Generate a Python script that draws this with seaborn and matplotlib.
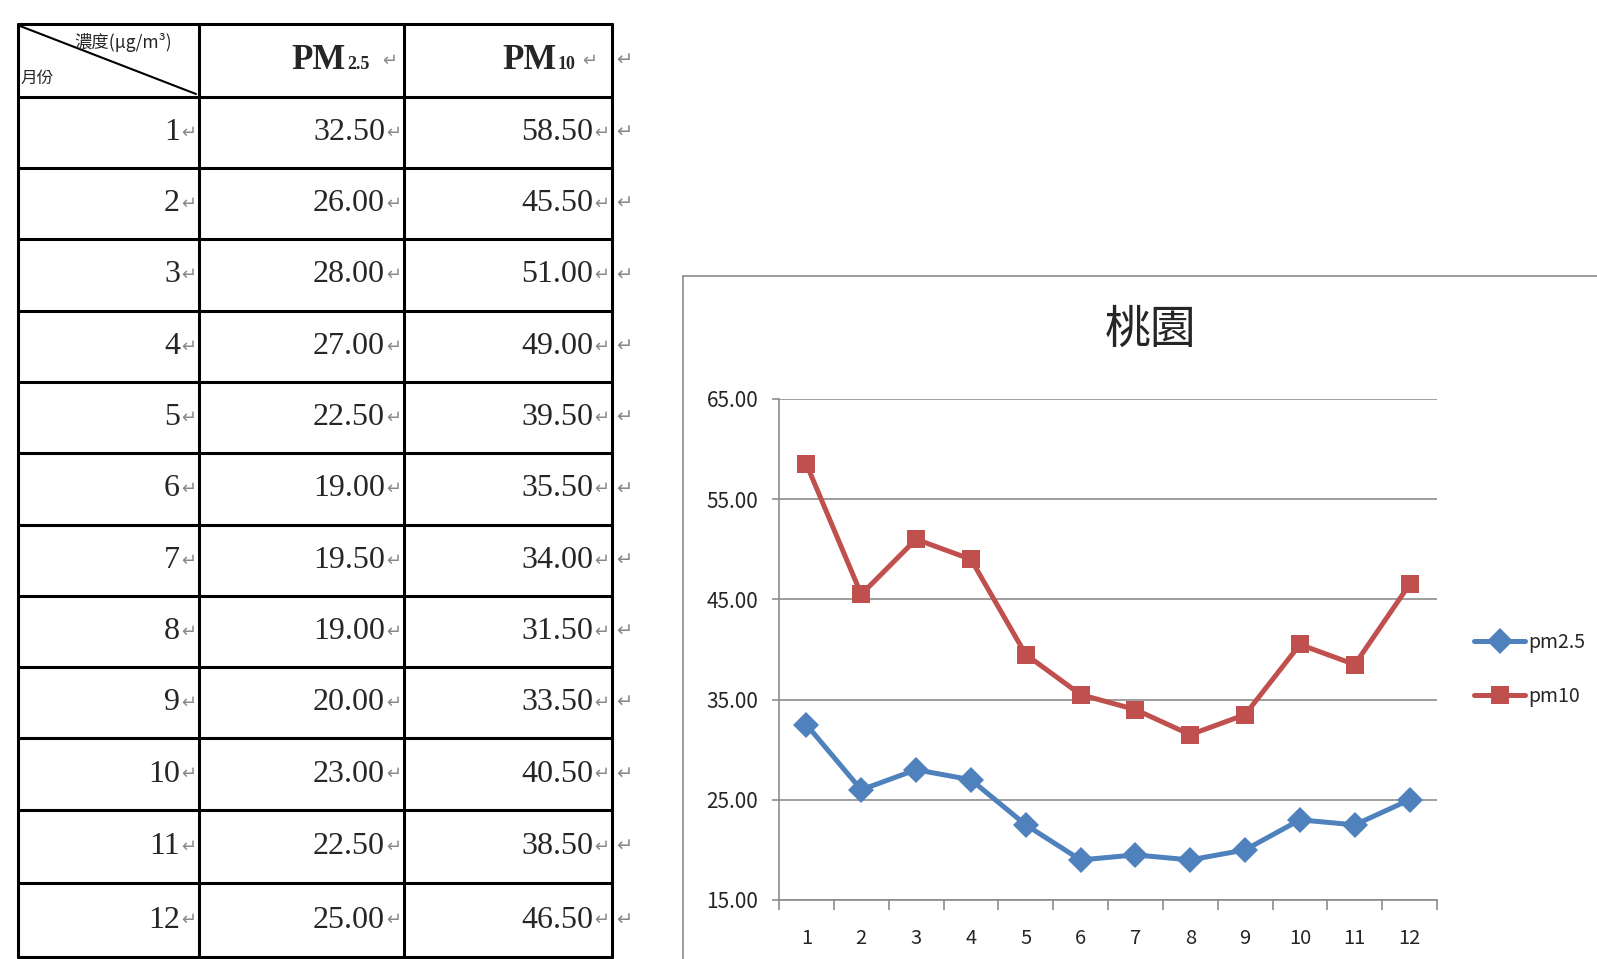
import matplotlib
matplotlib.use("Agg")
import numpy as np
import pandas as pd
import matplotlib.pyplot as plt
import seaborn as sns

months = [1, 2, 3, 4, 5, 6, 7, 8, 9, 10, 11, 12]
pm25 = [32.5, 26.0, 28.0, 27.0, 22.5, 19.0, 19.5, 19.0, 20.0, 23.0, 22.5, 25.0]
pm10 = [58.5, 45.5, 51.0, 49.0, 39.5, 35.5, 34.0, 31.5, 33.5, 40.5, 38.5, 46.5]
series_names = ["pm2.5", "pm10"]
chart_title = "桃園"
y_ticks = [15, 25, 35, 45, 55, 65]

sns.set_theme(style="white")
plt.rcParams["font.family"] = ["Noto Sans CJK TC", "DejaVu Sans"]

W, H = 1597, 959
fig = plt.figure(figsize=(W / 100, H / 100), dpi=100)

# background axes in pixel coords for the word-style table
bg = fig.add_axes([0, 0, 1, 1])
bg.set_xlim(0, W)
bg.set_ylim(H, 0)
bg.axis("off")

col_x = [18, 199, 404, 612]
row_y = [24, 97, 168, 239, 311, 382, 453, 525, 596, 667, 738, 810, 883, 957]
for y in row_y:
    bg.plot([col_x[0], col_x[-1]], [y, y], color="black", lw=2.2)
for x in col_x:
    bg.plot([x, x], [row_y[0], row_y[-1]], color="black", lw=2.2)
# diagonal in header cell
bg.plot([col_x[0] + 2, col_x[1] - 3], [row_y[0] + 2, row_y[1] - 3], color="black", lw=1.5)
bg.text(74, 43, "濃度(μg/m³)", fontsize=12.5, ha="left", va="center")
bg.text(20, 78, "月份", fontsize=12, ha="left", va="center")

serif = ["Liberation Serif", "DejaVu Serif"]
mark = "\u21b5"
grey = "#888888"
hdr_y = (row_y[0] + row_y[1]) / 2
bg.text(col_x[2] - 58, hdr_y, "PM", fontsize=25, fontweight="bold", family=serif,
        ha="right", va="center")
bg.text(col_x[2] - 57, hdr_y + 4, "2.5", fontsize=13, fontweight="bold", family=serif,
        ha="left", va="center")
bg.text(col_x[2] - 22, hdr_y, mark, fontsize=13, color=grey, family="DejaVu Sans",
        ha="left", va="center")
bg.text(col_x[3] - 55, hdr_y, "PM", fontsize=25, fontweight="bold", family=serif,
        ha="right", va="center")
bg.text(col_x[3] - 54, hdr_y + 4, "10", fontsize=13, fontweight="bold", family=serif,
        ha="left", va="center")
bg.text(col_x[3] - 30, hdr_y, mark, fontsize=13, color=grey, family="DejaVu Sans",
        ha="left", va="center")
bg.text(col_x[-1] + 4, hdr_y, mark, fontsize=14, color=grey,
        family="DejaVu Sans", ha="left", va="center")

for i, m in enumerate(months):
    yc = (row_y[i + 1] + row_y[i + 2]) / 2
    vals = [str(m), f"{pm25[i]:.2f}", f"{pm10[i]:.2f}"]
    for j, v in enumerate(vals):
        xr = col_x[j + 1] - 19
        bg.text(xr, yc, v, fontsize=23, family=serif, ha="right", va="center")
        bg.text(xr + 1, yc, mark, fontsize=13, color=grey,
                family="DejaVu Sans", ha="left", va="center")
    bg.text(col_x[-1] + 4, yc, mark, fontsize=14, color=grey,
            family="DejaVu Sans", ha="left", va="center")

# chart frame (excel chart area, cut off at the edges)
bg.plot([683, 683], [276, H], color="#8c8c8c", lw=1.2)
bg.plot([683, W], [276, 276], color="#8c8c8c", lw=1.2)
bg.text(1151, 330, chart_title, fontsize=33, ha="center", va="center",
        fontweight="medium")

# line chart
df = pd.DataFrame({"month": months * 2,
                   "value": pm25 + pm10,
                   "series": [series_names[0]] * 12 + [series_names[1]] * 12})
ax = fig.add_axes([779 / W, 1 - 900 / H, (1437 - 779) / W, (900 - 399) / H])
sns.lineplot(data=df, x="month", y="value", hue="series", style="series",
             palette=["#4F81BD", "#C0504D"], markers=["D", "s"], dashes=False,
             markersize=13, lw=3.6, markeredgewidth=0, ax=ax)
ax.set_xlim(0.5, 12.5)
ax.set_ylim(15, 65)
ax.set_yticks(y_ticks)
ax.set_yticklabels([f"{v:.2f}" for v in y_ticks])
ax.set_xticks(months)
ax.set_xticks(np.arange(0.5, 13, 1), minor=True)
ax.set_xlabel("")
ax.set_ylabel("")
ax.grid(axis="y", color="#8c8c8c", lw=1.2)
ax.set_axisbelow(True)
for s in ["top", "right"]:
    ax.spines[s].set_visible(False)
for s in ["left", "bottom"]:
    ax.spines[s].set_color("#8c8c8c")
    ax.spines[s].set_linewidth(1.2)
ax.tick_params(axis="x", which="major", length=0, pad=20, labelsize=14.5)
ax.tick_params(axis="x", which="minor", bottom=True, length=7, width=1.2,
               color="#8c8c8c", direction="out")
ax.tick_params(axis="y", left=True, length=5, width=1.2, color="#8c8c8c",
               direction="out", labelsize=15, pad=10)
ax.legend(loc="center left", bbox_to_anchor=(1.03, 0.46), frameon=False,
          fontsize=14, handlelength=2.6, labelspacing=1.7, handletextpad=0.2)

fig.savefig("out.png", dpi=100)
